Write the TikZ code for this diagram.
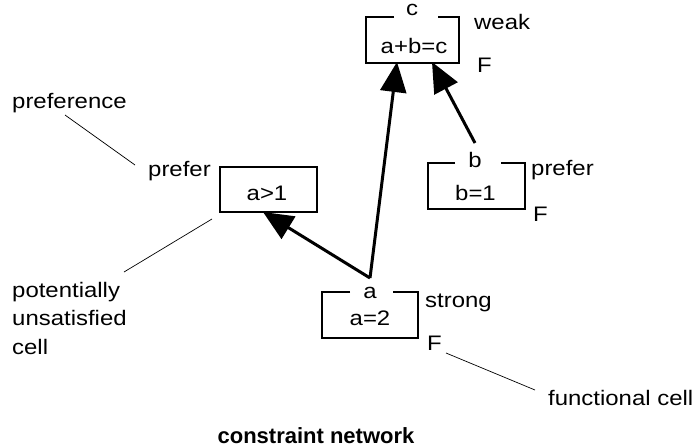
\documentclass[tikz,border=0pt]{standalone}
\usepackage{fontspec}
\setmainfont{Liberation Sans}[FakeStretch=1.14]
\newfontfamily\captionfont{Liberation Sans}
\usetikzlibrary{arrows.meta}
\begin{document}
\begin{tikzpicture}[x=1pt,y=-1pt,
  every node/.style={font=\fontsize{21}{25}\selectfont, inner sep=0pt},
  txt/.style={anchor=base west},
  ctr/.style={anchor=base},
  cellbox/.style={minimum width=#1, minimum height=45pt, draw=none},
  frame/.style={line width=1.7pt},
  link/.style={line width=3pt, -{Triangle[length=30pt,width=26pt]}},
  leader/.style={line width=0.7pt}]
\useasboundingbox (0,0) rectangle (694,447);

% cell c
\node[cellbox=93pt] (cbox) at (412.5,40) {};
\node[ctr] (clab) at (412,16) {c};
\node[ctr] (cexpr) at (414,53) {a+b=c};
\node[txt] (cstr) at (474,30) {weak};
\node[txt] (cF) at (477,72) {F};
\draw[frame] ([xshift=-18pt]clab.base |- cbox.north) -| (cbox.south west) -| (cbox.north east)
  -- ([xshift=26pt]clab.base |- cbox.north);

% cell b
\node[cellbox=97pt] (bbox) at (476.5,186) {};
\node[ctr] (blab) at (475,167) {b};
\node[ctr] (bexpr) at (475.5,200) {b=1};
\node[txt] (bstr) at (531,175) {prefer};
\node[txt] (bF) at (533,221) {F};
\draw[frame] ([xshift=-20pt]blab.base |- bbox.north) -| (bbox.south west) -| (bbox.north east)
  -- ([xshift=26pt]blab.base |- bbox.north);

% cell a
\node[cellbox=96pt] (abox) at (370,315) {};
\node[ctr] (alab) at (370,298) {a};
\node[ctr] (aexpr) at (370,325) {a=2};
\node[txt] (astr) at (425,307) {strong};
\node[txt] (aF) at (427,350) {F};
\draw[frame] ([xshift=-20pt]alab.base |- abox.north) -| (abox.south west) -| (abox.north east)
  -- ([xshift=23pt]alab.base |- abox.north);

% unsatisfied preference cell
\node[cellbox=97pt, draw, line width=1.7pt, minimum height=45pt] (pbox) at (268.5,189.5) {};
\node[ctr] (pexpr) at (267,200) {a>1};
\node[txt] (pstr) at (148,176) {prefer};

% connectors
\coordinate (apex) at (370,278);
\coordinate (bsrc) at (475,143);
\coordinate (tipA) at (263,212);
\coordinate (tipB) at (397,62);
\coordinate (tipC) at (432,62);
\draw[link] (apex) -- (tipA);
\draw[link] (apex) -- (tipB);
\draw[link] (bsrc) -- (tipC);

% annotations
\node[txt] (nPref) at (12,108) {preference};
\node[txt] (nPot1) at (12,297) {potentially};
\node[txt] (nPot2) at (12,325) {unsatisfied};
\node[txt] (nPot3) at (12,354) {cell};
\node[txt] (nFunc) at (548,405) {functional cell};
\coordinate (lp1) at (65,115);  \coordinate (lp2) at (135,165);
\coordinate (lu1) at (212,219); \coordinate (lu2) at (124,272);
\coordinate (lf1) at (446,353); \coordinate (lf2) at (535,390);
\draw[leader] (lp1) -- (lp2);
\draw[leader] (lu1) -- (lu2);
\draw[leader] (lf1) -- (lf2);

% caption
\node[ctr, font=\captionfont\fontsize{22}{26}\selectfont\bfseries] (title) at (316,443) {constraint network};
\end{tikzpicture}
\end{document}
